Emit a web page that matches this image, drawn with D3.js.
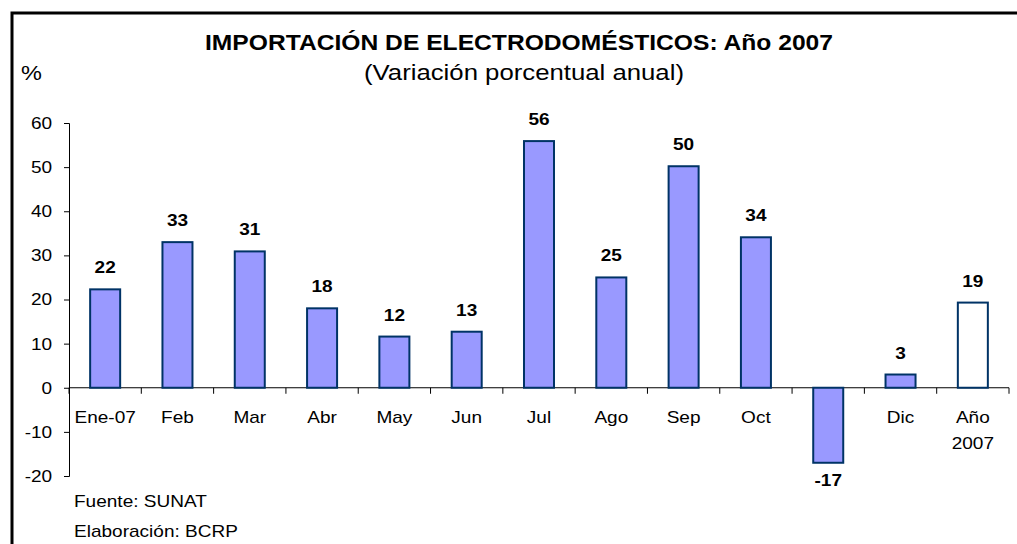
<!DOCTYPE html>
<html>
<head>
<meta charset="utf-8">
<script src="https://cdn.jsdelivr.net/npm/d3@7"></script>
<style>
  body { margin: 0; background: #fff; }
  text { font-family: "Liberation Sans", Arial, sans-serif; }
</style>
</head>
<body>
<div id="chart"></div>
<script>
// datos: variación porcentual anual
var categorias = ["Ene-07", "Feb", "Mar", "Abr", "May", "Jun", "Jul", "Ago", "Sep", "Oct", "Nov", "Dic", "Año 2007"];
var valores = [22.3, 33.0, 30.9, 18.0, 11.6, 12.7, 55.9, 25.0, 50.2, 34.1, -17.0, 3.0, 19.3];
var etiquetas = ["22", "33", "31", "18", "12", "13", "56", "25", "50", "34", "-17", "3", "19"];
var yTicks = [-20, -10, 0, 10, 20, 30, 40, 50, 60];

var W = 1017, H = 544;
var margin = { top: 123, right: 8, bottom: 68, left: 69 },
    width = W - margin.left - margin.right,
    height = H - margin.top - margin.bottom;

var SX = 1.12; // el texto del original está algo ensanchado

var svg = d3.select("#chart").append("svg")
    .attr("width", W)
    .attr("height", H);

// texto con ensanche horizontal
const addText = (sel, x, y, txt, size, bold, anchor, sx) => {
    return sel.append("text")
        .attr("transform", "translate(" + x + "," + y + ") scale(" + (sx || SX) + ",1)")
        .attr("text-anchor", anchor || "start")
        .attr("font-size", size)
        .attr("font-weight", bold ? "bold" : "normal")
        .attr("fill", "#000")
        .text(txt);
}

// marco
svg.append("path")
    .attr("d", "M12,544 V13 H1017")
    .attr("fill", "none")
    .attr("stroke", "#000")
    .attr("stroke-width", 3);

addText(svg, 519, 50, "IMPORTACIÓN DE ELECTRODOMÉSTICOS: Año 2007", 22, true, "middle");
addText(svg, 524, 80, "(Variación porcentual anual)", 22, false, "middle", 1.17);
addText(svg, 21, 80, "%", 21, false, "start");

var g = svg.append("g")
    .attr("transform", "translate(" + margin.left + "," + margin.top + ")");

var x = d3.scaleBand()
    .domain(categorias)
    .range([0, width])
    .paddingInner(0.585)
    .paddingOuter(0.2925);

var y = d3.scaleLinear()
    .domain([-20, 60])
    .range([height, 0]);

// eje y
var yAxis = g.append("g")
    .call(d3.axisLeft(y).tickValues(yTicks).tickSize(5).tickPadding(10).tickFormat(d => String(d)));
yAxis.select(".domain").attr("stroke", "#000");
yAxis.selectAll(".tick line").attr("stroke", "#000");
yAxis.selectAll("text")
    .attr("font-size", 17).attr("fill", "#000")
    .attr("transform", "scale(" + SX + ",1)")
    .style("font-family", "'Liberation Sans', Arial, sans-serif");

// eje x (en y = 0)
var xAxis = g.append("g")
    .attr("transform", "translate(0," + y(0) + ")")
    .call(d3.axisBottom(x).tickSize(0).tickPadding(0));
xAxis.select(".domain").attr("stroke", "#000").attr("d", "M0,0H" + width);
xAxis.selectAll(".tick text").remove();

// marcas entre categorías
var step = x.step();
xAxis.selectAll("line.sep")
    .data(d3.range(categorias.length + 1))
    .enter().append("line")
    .attr("class", "sep")
    .attr("x1", d => d * step).attr("x2", d => d * step)
    .attr("y1", 0).attr("y2", 6)
    .attr("stroke", "#000");

// etiquetas de categoría (la de Nov no aparece: la tapa la barra negativa)
categorias.forEach(function (c, k) {
    if (valores[k] < 0) return;
    var parts = c === "Año 2007" ? ["Año", "2007"] : [c];
    parts.forEach(function (p, i) {
        addText(xAxis, x(c) + x.bandwidth() / 2, 35 + i * 26, p, 17, false, "middle");
    });
});

// barras
g.selectAll("rect.bar")
    .data(valores)
    .enter().append("rect")
    .attr("class", "bar")
    .attr("x", (d, i) => x(categorias[i]))
    .attr("width", x.bandwidth())
    .attr("y", d => y(Math.max(0, d)))
    .attr("height", d => Math.abs(y(d) - y(0)))
    .attr("fill", (d, i) => i === valores.length - 1 ? "#fff" : "#9999FF")
    .attr("stroke", "#003366")
    .attr("stroke-width", 2);

// valores
valores.forEach(function (d, i) {
    var yy = d >= 0 ? y(d) - 16 : y(d) + 23;
    addText(g, x(categorias[i]) + x.bandwidth() / 2, yy, etiquetas[i], 17, true, "middle");
});

// fuente
addText(svg, 74, 507, "Fuente: SUNAT", 17, false, "start");
addText(svg, 74, 537, "Elaboración: BCRP", 17, false, "start");
</script>
</body>
</html>
